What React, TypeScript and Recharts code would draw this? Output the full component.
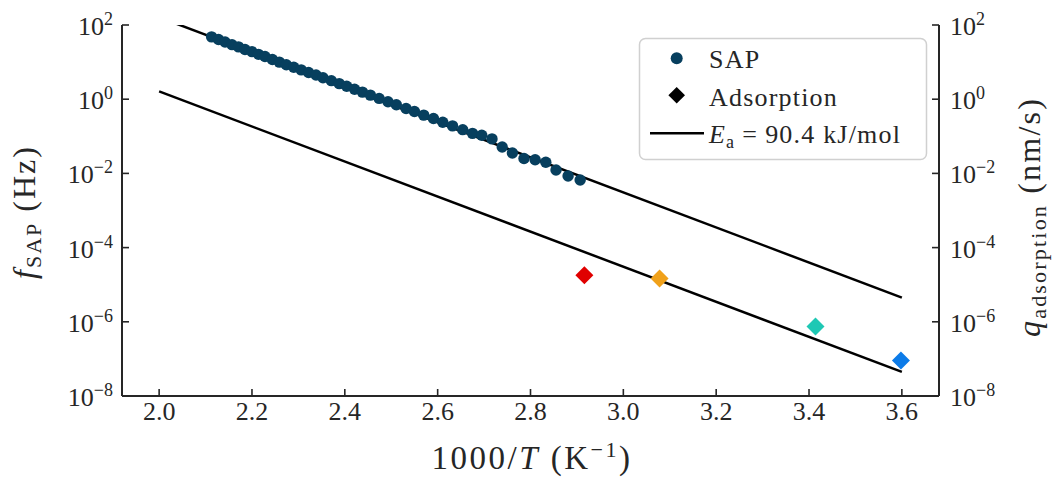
import React from 'react';
import { ComposedChart, Scatter, Line, XAxis, YAxis, Label } from 'recharts';

// SAP frequency vs inverse temperature
const SAP_X = [
  2.113, 2.128, 2.142, 2.157, 2.171, 2.185, 2.2, 2.214, 2.228, 2.244, 2.259,
  2.274, 2.29, 2.306, 2.322, 2.338, 2.353, 2.371, 2.388, 2.404, 2.421, 2.438,
  2.455, 2.474, 2.493, 2.511, 2.532, 2.55, 2.57, 2.591, 2.611, 2.632, 2.654,
  2.675, 2.695, 2.717, 2.739, 2.761, 2.786, 2.81, 2.833, 2.855, 2.881, 2.907,
];
const SAP_F = [
  47.9, 40.7, 34.7, 29.5, 25.7, 21.9, 19.1, 16.2, 14.1, 11.7, 10.0,
  8.51, 7.24, 6.17, 5.25, 4.47, 3.8, 3.16, 2.63, 2.24, 1.86, 1.55,
  1.29, 1.05, 0.851, 0.708, 0.562, 0.468, 0.372, 0.302, 0.24, 0.191, 0.151,
  0.12, 0.107, 0.0851, 0.0513, 0.0355, 0.0251, 0.0234, 0.02, 0.0123, 0.00851, 0.00661,
];

// adsorption rates
const ADS_X = [2.916, 3.078, 3.414, 3.598];
const ADS_Q = [1.81e-5, 1.47e-5, 7.5e-7, 9.0e-8];
const ADS_COLORS = ['#e00000', '#f0a11a', '#1ec8b4', '#0c7be8'];

// Arrhenius fits, Ea = 90.4 kJ/mol (end points)
const FIT_X = [2.0, 3.6];
const FIT_SAP = [162, 4.5e-6];
const FIT_ADS = [1.62, 4.47e-8];

const X_TICKS = [2.0, 2.2, 2.4, 2.6, 2.8, 3.0, 3.2, 3.4, 3.6];
const Y_TICKS = [1e2, 1e0, 1e-2, 1e-4, 1e-6, 1e-8];

const sapData = SAP_X.map((x, i) => ({ x, y: SAP_F[i] }));
const adsData = ADS_X.map((x, i) => ({ x, y: ADS_Q[i], color: ADS_COLORS[i] }));
const fitSap = FIT_X.map((x, i) => ({ x, y: FIT_SAP[i] }));
const fitAds = FIT_X.map((x, i) => ({ x, y: FIT_ADS[i] }));

const W = 1053;
const H = 481;
const PL = 122;
const PR = 939;
const PT = 25;
const PB = 396;
const INK = '#262626';
const FONT = '"Liberation Serif", "Times New Roman", serif';
const SAP_COLOR = '#073f5e';

const sup = (v: number) => {
  const e = Math.round(Math.log10(v));
  return e < 0 ? `\u2212${-e}` : `${e}`;
};

const LeftTick = ({ y, payload }: any) => (
  <g>
    <line x1={PL} x2={PL + 7} y1={y} y2={y} stroke={INK} strokeWidth={1.6} />
    <text x={PL - 9} y={y + 10} textAnchor="end" fontFamily={FONT} fontSize={26} fill={INK}>
      10<tspan dy={-10} fontSize={18}>{sup(payload.value)}</tspan>
    </text>
  </g>
);

const RightTick = ({ y, payload }: any) => (
  <g>
    <line x1={PR - 7} x2={PR} y1={y} y2={y} stroke={INK} strokeWidth={1.6} />
    <text x={PR + 11} y={y + 10} textAnchor="start" fontFamily={FONT} fontSize={26} fill={INK}>
      10<tspan dy={-10} fontSize={18}>{sup(payload.value)}</tspan>
    </text>
  </g>
);

const BottomTick = ({ x, payload }: any) => (
  <g>
    <line x1={x} x2={x} y1={PB} y2={PB - 7} stroke={INK} strokeWidth={1.6} />
    <text x={x} y={420} textAnchor="middle" fontFamily={FONT} fontSize={26} fill={INK}>
      {payload.value.toFixed(1)}
    </text>
  </g>
);

const Dot = ({ cx, cy }: any) => <circle cx={cx} cy={cy} r={5.7} fill={SAP_COLOR} />;

const Diamond = ({ cx, cy, payload }: any) => (
  <path
    d={`M${cx},${cy - 9}L${cx + 9},${cy}L${cx},${cy + 9}L${cx - 9},${cy}Z`}
    fill={payload.color}
  />
);

const LegendBox = () => (
  <svg width={300} height={130} style={{ position: 'absolute', left: 634, top: 33 }}>
    <rect x={5.5} y={5.5} width={287} height={121} rx={6} fill="#fff" fillOpacity={0.85} stroke="#d0d0d0" strokeWidth={1.5} />
    <circle cx={42.7} cy={25.3} r={6} fill={SAP_COLOR} />
    <text x={75} y={35} fontFamily={FONT} fontSize={26} letterSpacing={1.2} fill={INK}>SAP</text>
    <path d="M42.7,54L51,62.3L42.7,70.6L34.4,62.3Z" fill="#000" />
    <text x={75} y={73} fontFamily={FONT} fontSize={26} letterSpacing={1.2} fill={INK}>Adsorption</text>
    <line x1={16} x2={70} y1={100.3} y2={100.3} stroke="#000" strokeWidth={2.5} />
    <text x={75} y={110.3} fontFamily={FONT} fontSize={26} letterSpacing={1.2} fill={INK}>
      <tspan fontStyle="italic">E</tspan>
      <tspan fontSize={18} dy={5}>a</tspan>
      <tspan dy={-5} dx={7}>=</tspan>
      <tspan dx={7}>90.4 kJ/mol</tspan>
    </text>
  </svg>
);

export default function App() {
  return (
    <div style={{ position: 'fixed', left: 0, top: 0, width: W, height: H, background: '#fff' }}>
      <ComposedChart width={W} height={H} margin={{ top: PT, right: 34, bottom: 35, left: 42 }}>
        <XAxis
          type="number"
          dataKey="x"
          domain={[1.92, 3.68]}
          ticks={X_TICKS}
          interval={0}
          allowDataOverflow
          height={50}
          tickLine={false}
          tick={BottomTick}
          axisLine={{ stroke: INK, strokeWidth: 2 }}
        >
          <Label
            content={() => (
              <text x={532} y={469} textAnchor="middle" fontFamily={FONT} fontSize={33} letterSpacing={2.5} fill={INK}>
                1000/<tspan fontStyle="italic">T</tspan> (K<tspan dy={-12} fontSize={22}>{'\u22121'}</tspan>
                <tspan dy={12}>)</tspan>
              </text>
            )}
          />
        </XAxis>
        <XAxis
          xAxisId="top"
          orientation="top"
          type="number"
          dataKey="x"
          domain={[1.92, 3.68]}
          height={0}
          tick={false}
          tickLine={false}
          axisLine={{ stroke: INK, strokeWidth: 2 }}
        />
        <YAxis
          yAxisId="left"
          dataKey="y"
          scale="log"
          domain={[1e-8, 1e2]}
          ticks={Y_TICKS}
          interval={0}
          allowDataOverflow
          width={80}
          tickLine={false}
          tick={LeftTick}
          axisLine={{ stroke: INK, strokeWidth: 2 }}
        >
          <Label
            content={() => (
              <text
                x={35}
                y={212}
                transform="rotate(-90, 35, 212)"
                textAnchor="middle"
                fontFamily={FONT}
                fontSize={32}
                letterSpacing={2}
                fill={INK}
              >
                <tspan fontStyle="italic">f</tspan>
                <tspan fontSize={22} dy={6}>SAP</tspan>
                <tspan dy={-6}> (Hz)</tspan>
              </text>
            )}
          />
        </YAxis>
        <YAxis
          yAxisId="right"
          orientation="right"
          dataKey="y"
          scale="log"
          domain={[1e-8, 1e2]}
          ticks={Y_TICKS}
          interval={0}
          allowDataOverflow
          width={80}
          tickLine={false}
          tick={RightTick}
          axisLine={{ stroke: INK, strokeWidth: 2 }}
        >
          <Label
            content={() => (
              <text
                x={1040}
                y={217}
                transform="rotate(-90, 1040, 217)"
                textAnchor="middle"
                fontFamily={FONT}
                fontSize={32}
                letterSpacing={2.2}
                fill={INK}
              >
                <tspan fontStyle="italic">q</tspan>
                <tspan fontSize={22} dy={6}>adsorption</tspan>
                <tspan dy={-6}> (nm/s)</tspan>
              </text>
            )}
          />
        </YAxis>
        <Scatter yAxisId="left" data={sapData} dataKey="y" shape={Dot} isAnimationActive={false} />
        <Line yAxisId="left" data={fitSap} dataKey="y" stroke="#000" strokeWidth={2.5} dot={false} isAnimationActive={false} />
        <Line yAxisId="left" data={fitAds} dataKey="y" stroke="#000" strokeWidth={2.5} dot={false} isAnimationActive={false} />
        <Scatter yAxisId="left" data={adsData} dataKey="y" shape={Diamond} isAnimationActive={false} />
      </ComposedChart>
      <LegendBox />
    </div>
  );
}
